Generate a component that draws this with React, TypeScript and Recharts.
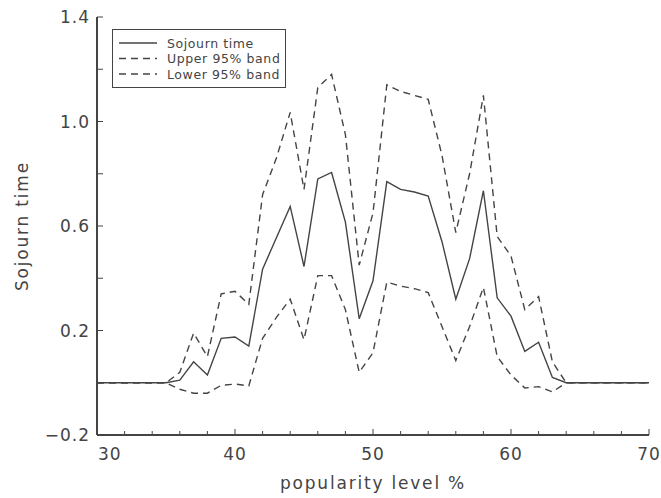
import React from 'react'
import { LineChart, Line, XAxis, YAxis, Legend } from 'recharts'

// popularity level (%) on the x axis, one point per integer
const popularity = [
  30, 31, 32, 33, 34, 35, 36, 37, 38, 39, 40, 41, 42, 43, 44, 45, 46, 47, 48, 49,
  50, 51, 52, 53, 54, 55, 56, 57, 58, 59, 60, 61, 62, 63, 64, 65, 66, 67, 68, 69, 70
]

const sojournTime = [
  0, 0, 0, 0, 0, 0, 0.01, 0.08, 0.03, 0.17, 0.175, 0.14, 0.435, 0.555, 0.675, 0.445,
  0.78, 0.805, 0.615, 0.245, 0.39, 0.77, 0.74, 0.73, 0.715, 0.54, 0.32, 0.475, 0.735,
  0.325, 0.255, 0.12, 0.155, 0.02, 0, 0, 0, 0, 0, 0, 0
]

const upperBand = [
  0, 0, 0, 0, 0, 0, 0.04, 0.19, 0.1, 0.34, 0.35, 0.3, 0.72, 0.86, 1.035, 0.74,
  1.13, 1.18, 0.95, 0.45, 0.65, 1.14, 1.115, 1.1, 1.085, 0.87, 0.575, 0.8, 1.1,
  0.56, 0.485, 0.28, 0.33, 0.08, 0, 0, 0, 0, 0, 0, 0
]

const lowerBand = [
  0, 0, 0, 0, 0, 0, -0.025, -0.04, -0.04, -0.01, -0.005, -0.012, 0.17, 0.25, 0.32, 0.165,
  0.41, 0.41, 0.28, 0.04, 0.115, 0.385, 0.37, 0.36, 0.345, 0.215, 0.085, 0.215, 0.365,
  0.1, 0.03, -0.02, -0.015, -0.035, 0, 0, 0, 0, 0, 0, 0
]

const seriesNames = ['Sojourn time', 'Upper 95% band', 'Lower 95% band']

const xTicks = [30, 32, 34, 36, 38, 40, 42, 44, 46, 48, 50, 52, 54, 56, 58, 60, 62, 64, 66, 68, 70]
const xTickLabels = [30, 40, 50, 60, 70]
const yTicks = [-0.2, 0, 0.2, 0.4, 0.6, 0.8, 1.0, 1.2, 1.4]
const yTickLabels = [-0.2, 0.2, 0.6, 1.0, 1.4]

const INK = '#444'
const FONT = '"DejaVu Sans", sans-serif'
const DASH = '7 5'

const data = popularity.map((p, i) => ({
  p,
  sojourn: sojournTime[i],
  upper: upperBand[i],
  lower: lowerBand[i]
}))

const isLabelled = (list: number[], v: number) => list.some(l => Math.abs(l - v) < 1e-6)
const fmtY = (v: number) => v.toFixed(1).replace('-', '\u2212')

function BottomTick({ x, y, payload, index }: any) {
  const v = payload.value
  const major = isLabelled(xTickLabels, v)
  const first = index === 0
  return (
    <g>
      <line x1={x} x2={x} y1={y} y2={y - (major ? 6 : 4)} stroke={INK} />
      {major && (
        <text x={first ? x + 1 : x} y={y + 25} textAnchor={first ? 'start' : 'middle'}
          fontFamily={FONT} fontSize={17} letterSpacing={1} fill={INK}>
          {v}
        </text>
      )}
    </g>
  )
}

function TopTick({ x, y, payload }: any) {
  const major = isLabelled(xTickLabels, payload.value)
  return <line x1={x} x2={x} y1={y} y2={y + (major ? 6 : 4)} stroke={INK} />
}

function LeftTick({ x, y, payload }: any) {
  const v = payload.value
  return (
    <g>
      <line x1={x} x2={x + 6} y1={y} y2={y} stroke={INK} />
      {isLabelled(yTickLabels, v) && (
        <text x={x - 7} y={y + 6} textAnchor="end" fontFamily={FONT} fontSize={17}
          letterSpacing={1} fill={INK}>
          {fmtY(v)}
        </text>
      )}
    </g>
  )
}

function RightTick({ x, y }: any) {
  return <line x1={x} x2={x - 6} y1={y} y2={y} stroke={INK} />
}

function LegendBox({ payload }: any) {
  const items = seriesNames.map(n => (payload || []).find((e: any) => e.value === n)).filter(Boolean)
  return (
    <svg width={174} height={59} style={{ display: 'block' }}>
      <rect x={0.5} y={0.5} width={173} height={58} fill="#fff" stroke={INK} strokeWidth={1} />
      {items.map((e: any, i: number) => {
        const cy = 14 + i * 15.5
        return (
          <g key={e.value}>
            <line x1={7} x2={45} y1={cy} y2={cy} stroke={INK} strokeWidth={1.3}
              strokeDasharray={e.payload?.strokeDasharray} />
            <text x={55} y={cy + 4.5} fontFamily={FONT} fontSize={12.5} letterSpacing={0.6}
              fill={INK}>{e.value}</text>
          </g>
        )
      })}
    </svg>
  )
}

export default function App() {
  return (
    <div style={{ width: 661, height: 498, background: '#fff' }}>
      <style>{'body{margin:0}'}</style>
      <LineChart width={661} height={498} data={data}
        margin={{ top: 17, right: 12, left: 0, bottom: 0 }}>
        <XAxis dataKey="p" type="number" domain={[30, 70]} ticks={xTicks} interval={0}
          height={63} tickSize={0} tickMargin={0} tickLine={false}
          axisLine={{ stroke: INK, strokeWidth: 2 }} tick={<BottomTick />}
          label={{
            content: ({ viewBox }: any) => (
              <text x={viewBox.x + viewBox.width / 2} y={viewBox.y + 54} textAnchor="middle"
                fontFamily={FONT} fontSize={17} letterSpacing={1.8} fill={INK}>
                popularity level %
              </text>
            )
          }} />
        <XAxis xAxisId="top" orientation="top" dataKey="p" type="number" domain={[30, 70]}
          ticks={xTicks} interval={0} height={0} tickSize={0} tickMargin={0} tickLine={false}
          axisLine={{ stroke: INK, strokeWidth: 2 }} tick={<TopTick />} />
        <YAxis type="number" domain={[-0.2, 1.4]} ticks={yTicks} interval={0} width={97}
          tickSize={0} tickMargin={0} tickLine={false} allowDataOverflow
          axisLine={{ stroke: INK, strokeWidth: 2 }} tick={<LeftTick />}
          label={{
            content: ({ viewBox }: any) => {
              const cx = 22
              const cy = viewBox.y + viewBox.height / 2
              return (
                <text x={cx} y={cy} transform={`rotate(-90 ${cx} ${cy})`} textAnchor="middle"
                  dominantBaseline="central" fontFamily={FONT} fontSize={17} letterSpacing={1.8}
                  fill={INK}>
                  Sojourn time
                </text>
              )
            }
          }} />
        <YAxis yAxisId="right" orientation="right" type="number" domain={[-0.2, 1.4]}
          ticks={yTicks} interval={0} width={0} tickSize={0} tickMargin={0} tickLine={false}
          allowDataOverflow axisLine={{ stroke: INK, strokeWidth: 2 }} tick={<RightTick />} />
        <Legend layout="vertical" align="center" verticalAlign="middle" content={<LegendBox />}
          wrapperStyle={{ position: 'absolute', left: 112, top: 29, width: 174, height: 59 }} />
        {/* invisible copy bound to the top/right axes so the box frame is drawn */}
        <Line dataKey="sojourn" xAxisId="top" yAxisId="right" stroke="none" legendType="none"
          dot={false} activeDot={false} isAnimationActive={false} />
        <Line dataKey="upper" name={seriesNames[1]} stroke={INK} strokeWidth={1.4}
          strokeDasharray={DASH} dot={false} isAnimationActive={false} />
        <Line dataKey="lower" name={seriesNames[2]} stroke={INK} strokeWidth={1.4}
          strokeDasharray={DASH} dot={false} isAnimationActive={false} />
        <Line dataKey="sojourn" name={seriesNames[0]} stroke={INK} strokeWidth={1.4}
          dot={false} isAnimationActive={false} />
      </LineChart>
    </div>
  )
}
